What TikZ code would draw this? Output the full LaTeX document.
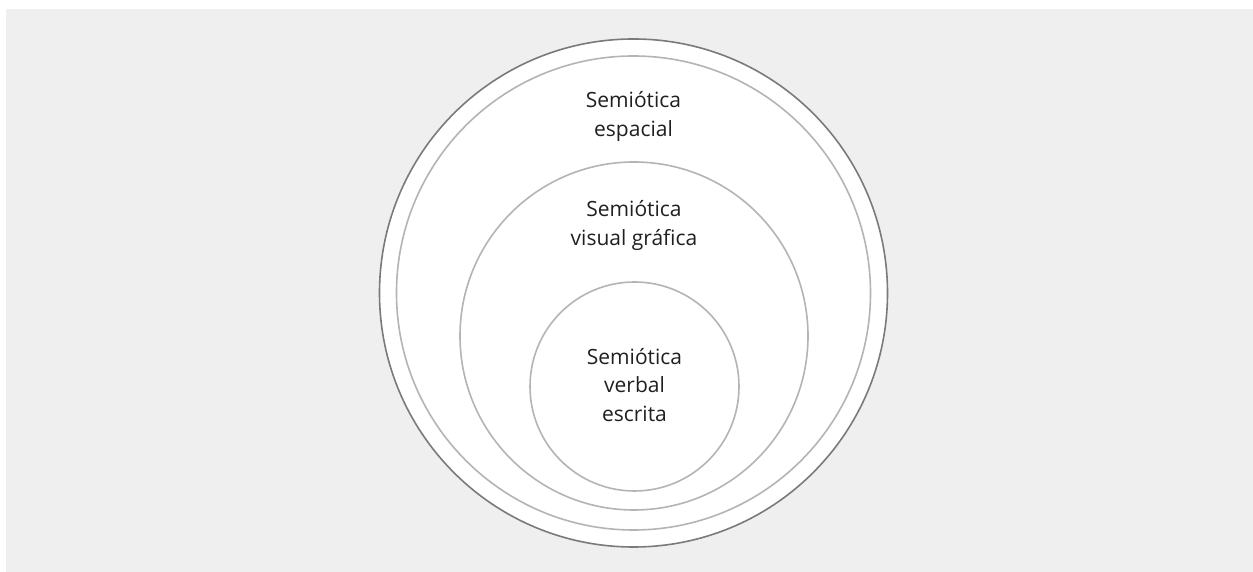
\documentclass[tikz,border=0pt]{standalone}
\usepackage{fontspec}
\setmainfont{Open Sans}
\usetikzlibrary{positioning}
\definecolor{bggray}{HTML}{EFEFEF}
\definecolor{ringdark}{HTML}{7A7A7A}
\definecolor{ringlight}{HTML}{B4B4B4}
\definecolor{inkblack}{HTML}{231F20}

\begin{document}
\begin{tikzpicture}[
  x=1pt,y=1pt,
  ring/.style={circle,draw=ringlight,line width=1.6pt,fill=white,inner sep=0pt},
  outerring/.style={ring,draw=ringdark},
  lbl/.style={align=center,inner sep=0pt,text=inkblack,font=\fontsize{21}{28.5}\selectfont}]
\useasboundingbox (0,0) rectangle (1253,572);

% ---------- background panel ----------
\fill[bggray] (6,0) rectangle (1253,563);

% ---------- nested rings, outside in ----------
\node[outerring,minimum size=508] (space) at (633.5,279) {};
\node[ring,minimum size=474] (spacein) at (633.5,279) {};
\node[ring,minimum size=348] (visual) at (634,236) {};
\node[ring,minimum size=209] (verbal) at (634.5,185.5) {};

% ---------- labels ----------
\node[lbl] (tspace) at (633.5,455.5) {Semiótica\\espacial};
\node[lbl] (tvisual) at (634,346.5) {Semiótica\\visual gráfica};
\node[lbl] (tverbal) at (634.5,187) {Semiótica\\verbal\\escrita};
\end{tikzpicture}
\end{document}
